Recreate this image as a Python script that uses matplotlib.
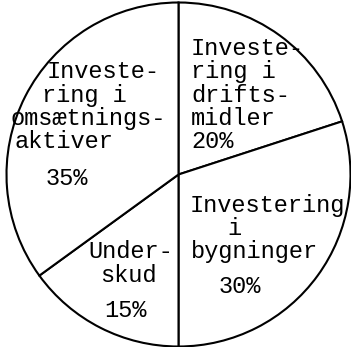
import matplotlib.pyplot as plt

# andele i procent (med uret fra toppen)
andele = [20, 30, 15, 35]
labels = [
    ["Investe-", "ring i", "drifts-", "midler", "20%"],
    ["Investering", "i", "bygninger", "30%"],
    ["Under-", "skud", "15%"],
    ["Investe-", "ring i", "omsætnings-", "aktiver", "35%"],
]

# tekstplacering (venstre kant, grundlinje) i billedpixels
pos = [
    [(191, 55), (191, 78), (191, 102), (191, 125), (191, 148)],
    [(190, 212), (227, 235), (191, 258), (219, 293)],
    [(88, 258), (100, 282), (104, 317)],
    [(47, 78), (42, 102), (11, 125), (15, 148), (46, 185)],
]

W, H = 351, 347
fig = plt.figure(figsize=(W / 100, H / 100), dpi=100)
ax = fig.add_axes([0, 0, 1, 1])

ax.pie(andele, startangle=90, counterclock=False,
       center=(178.5, H - 174.5), radius=172,
       colors=["white"] * len(andele),
       wedgeprops={"edgecolor": "black", "linewidth": 1.5})

for lines, pp in zip(labels, pos):
    for txt, (x, y) in zip(lines, pp):
        ax.text(x, H - y, txt, ha="left", va="baseline",
                fontsize=17, family="Liberation Mono", color="black")

ax.set_xlim(0, W)
ax.set_ylim(0, H)
ax.axis("off")
fig.savefig("out.png", dpi=100, facecolor="white")
